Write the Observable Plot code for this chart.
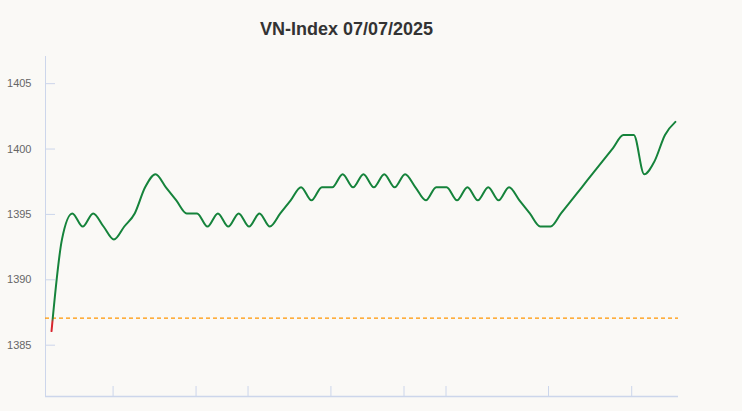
<!DOCTYPE html>
<html>
<head>
<meta charset="utf-8">
<script src="https://cdn.jsdelivr.net/npm/d3@7"></script>
<script src="https://cdn.jsdelivr.net/npm/@observablehq/plot@0.6"></script>
<style>
  html, body { margin: 0; padding: 0; background: #faf9f6; }
  #wrap { width: 742px; height: 411px; background: #faf9f6; font-family: "Liberation Sans", Arial, sans-serif; }
  #title { height: 46px; box-sizing: border-box; padding-top: 20px; padding-right: 49px; text-align: center;
           font-size: 18px; line-height: 18px; font-weight: bold; color: #333333; }
  svg { display: block; }
</style>
</head>
<body>
<div id="wrap">
  <div id="title">VN-Index 07/07/2025</div>
  <div id="chart"></div>
</div>
<script>
// Intraday VN-Index values (points, in order)
const values = [
  1386, 1393, 1395, 1394, 1395, 1394, 1393, 1394, 1395, 1397,
  1398, 1397, 1396, 1395, 1395, 1394, 1395, 1394, 1395, 1394,
  1395, 1394, 1395, 1396, 1397, 1396, 1397, 1397, 1398, 1397,
  1398, 1397, 1398, 1397, 1398, 1397, 1396, 1397, 1397, 1396,
  1397, 1396, 1397, 1396, 1397, 1396, 1395, 1394, 1394, 1395,
  1396, 1397, 1398, 1399, 1400, 1401, 1401, 1398, 1399, 1401,
  1402
];
const reference = 1387;           // previous close
const yTicks = [1385, 1390, 1395, 1400, 1405];
const xTicks = [5.92, 13.9, 18.9, 26.87, 33.9, 37.94, 47.8, 55.8];
const xDomain = [-0.58, 60.3];
const yDomain = [1381, 1407];

const data = values.map((v, i) => ({i, v}));
const H = 365;

const chart = Plot.plot({
  width: 742,
  height: H,
  marginTop: 10,
  marginBottom: 15,
  marginLeft: 45,
  marginRight: 64,
  style: {background: "#faf9f6", fontFamily: "'Liberation Sans', Arial, sans-serif", fontSize: "11px", overflow: "visible"},
  x: {domain: xDomain},
  y: {domain: yDomain},
  marks: [
    Plot.axisY({ticks: yTicks, tickSize: -10, tickPadding: 24, tickFormat: d => String(d), dy: 1,
                stroke: "#ccd6eb", fill: "#666666", fontSize: 11, label: null}),
    Plot.axisX({ticks: xTicks, tickSize: -10, tickFormat: () => "", stroke: "#ccd6eb", label: null}),
    Plot.ruleX([xDomain[0]], {stroke: "#ccd6eb", strokeWidth: 1}),
    Plot.ruleY([yDomain[0]], {stroke: "#ccd6eb", strokeWidth: 1.5}),
    Plot.ruleY([reference], {stroke: "#ff9500", strokeWidth: 1.2, strokeDasharray: "4,3"}),
    Plot.lineY(data, {x: "i", y: "v", curve: "monotone-x", stroke: "url(#vnGrad)", strokeWidth: 2})
  ]
});

// gradient: red below the reference line, green above
const refY = chart.scale("y").apply(reference);
const svg = d3.select(chart);
const defs = svg.insert("defs", ":first-child");
const grad = defs.append("linearGradient")
  .attr("id", "vnGrad")
  .attr("gradientUnits", "userSpaceOnUse")
  .attr("x1", 0).attr("x2", 0).attr("y1", 0).attr("y2", H);
grad.append("stop").attr("offset", refY / H).attr("stop-color", "#15833b");
grad.append("stop").attr("offset", (refY + 4) / H).attr("stop-color", "#d9262e");
grad.append("stop").attr("offset", 1).attr("stop-color", "#d9262e");

document.getElementById("chart").appendChild(chart);
</script>
</body>
</html>
